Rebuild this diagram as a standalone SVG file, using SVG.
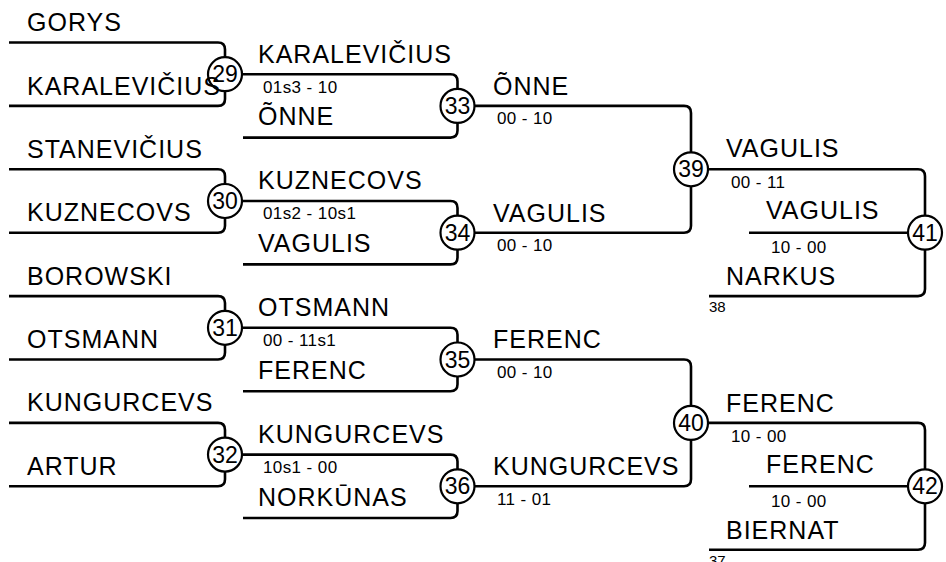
<svg xmlns="http://www.w3.org/2000/svg" width="946" height="562" viewBox="0 0 946 562">
<style>
.ln{fill:none;stroke:#000;stroke-width:2.6;stroke-linecap:butt}
.nd circle{fill:none;stroke:#000;stroke-width:2.2}
.nd text{font-family:"Liberation Sans",Arial,sans-serif;font-size:23px;text-anchor:middle;fill:#000}
.nm{font-family:"Liberation Sans",Arial,sans-serif;font-size:25px;letter-spacing:1px;fill:#000}
.sc{font-family:"Liberation Sans",Arial,sans-serif;font-size:17px;letter-spacing:0.4px;fill:#000}
.sm{font-family:"Liberation Sans",Arial,sans-serif;font-size:15px;fill:#000}
</style>
<rect width="946" height="562" fill="#fff"/>
<g id="connectors">
<path class="ln" d="M9 42.5H218Q225 42.5 225 49.5V57.2M225 91.2V98.9Q225 105.9 218 105.9H9"/>
<path class="ln" d="M9 169.3H218Q225 169.3 225 176.3V184M225 218V225.7Q225 232.7 218 232.7H9"/>
<path class="ln" d="M9 296.1H218Q225 296.1 225 303.1V310.8M225 344.8V352.5Q225 359.5 218 359.5H9"/>
<path class="ln" d="M9 422.9H218Q225 422.9 225 429.9V437.6M225 471.6V479.3Q225 486.3 218 486.3H9"/>
<path class="ln" d="M242 74.2H450.5Q457.5 74.2 457.5 81.2V88.9M457.5 122.9V130.6Q457.5 137.6 450.5 137.6H243"/>
<path class="ln" d="M242 201H450.5Q457.5 201 457.5 208V215.7M457.5 249.7V257.4Q457.5 264.4 450.5 264.4H243"/>
<path class="ln" d="M242 327.8H450.5Q457.5 327.8 457.5 334.8V342.5M457.5 376.5V384.2Q457.5 391.2 450.5 391.2H243"/>
<path class="ln" d="M242 454.6H450.5Q457.5 454.6 457.5 461.6V469.3M457.5 503.3V511Q457.5 518 450.5 518H243"/>
<path class="ln" d="M474.5 105.9H684Q691 105.9 691 112.9V152.3M691 186.3V225.7Q691 232.7 684 232.7H474.5"/>
<path class="ln" d="M474.5 359.5H684Q691 359.5 691 366.5V405.9M691 439.9V479.3Q691 486.3 684 486.3H474.5"/>
<path class="ln" d="M708 169.3H918Q925 169.3 925 176.3V215.7M925 249.7V289.1Q925 296.1 918 296.1H709M749 232.7H908"/>
<path class="ln" d="M708 422.9H918Q925 422.9 925 429.9V469.3M925 503.3V542.7Q925 549.7 918 549.7H709M749 486.3H908"/>
</g>
<g id="n29" class="nd"><circle cx="225" cy="74.2" r="17"/><text x="225" y="82.2">29</text></g>
<g id="n30" class="nd"><circle cx="225" cy="201" r="17"/><text x="225" y="209">30</text></g>
<g id="n31" class="nd"><circle cx="225" cy="327.8" r="17"/><text x="225" y="335.8">31</text></g>
<g id="n32" class="nd"><circle cx="225" cy="454.6" r="17"/><text x="225" y="462.6">32</text></g>
<g id="n33" class="nd"><circle cx="457.5" cy="105.9" r="17"/><text x="457.5" y="113.9">33</text></g>
<g id="n34" class="nd"><circle cx="457.5" cy="232.7" r="17"/><text x="457.5" y="240.7">34</text></g>
<g id="n35" class="nd"><circle cx="457.5" cy="359.5" r="17"/><text x="457.5" y="367.5">35</text></g>
<g id="n36" class="nd"><circle cx="457.5" cy="486.3" r="17"/><text x="457.5" y="494.3">36</text></g>
<g id="n39" class="nd"><circle cx="691" cy="169.3" r="17"/><text x="691" y="177.3">39</text></g>
<g id="n40" class="nd"><circle cx="691" cy="422.9" r="17"/><text x="691" y="430.9">40</text></g>
<g id="n41" class="nd"><circle cx="925" cy="232.7" r="17"/><text x="925" y="240.7">41</text></g>
<g id="n42" class="nd"><circle cx="925" cy="486.3" r="17"/><text x="925" y="494.3">42</text></g>
<g id="labels">
<text class="nm" x="27" y="31">GORYS</text>
<text class="nm" x="27" y="95">KARALEVIČIUS</text>
<text class="nm" x="27" y="157.5">STANEVIČIUS</text>
<text class="nm" x="27" y="221">KUZNECOVS</text>
<text class="nm" x="27" y="284.5">BOROWSKI</text>
<text class="nm" x="27" y="348">OTSMANN</text>
<text class="nm" x="27" y="411">KUNGURCEVS</text>
<text class="nm" x="27" y="474.5">ARTUR</text>
<text class="nm" x="258" y="62.5">KARALEVIČIUS</text>
<text class="sc" x="263" y="92.5">01s3 - 10</text>
<text class="nm" x="258" y="125">ÕNNE</text>
<text class="nm" x="258" y="189">KUZNECOVS</text>
<text class="sc" x="263" y="219">01s2 - 10s1</text>
<text class="nm" x="258" y="252">VAGULIS</text>
<text class="nm" x="258" y="316">OTSMANN</text>
<text class="sc" x="263" y="346">00 - 11s1</text>
<text class="nm" x="258" y="379">FERENC</text>
<text class="nm" x="258" y="443">KUNGURCEVS</text>
<text class="sc" x="263" y="473">10s1 - 00</text>
<text class="nm" x="258" y="506">NORKŪNAS</text>
<text class="nm" x="493" y="94.5">ÕNNE</text>
<text class="sc" x="497" y="124">00 - 10</text>
<text class="nm" x="493" y="221.5">VAGULIS</text>
<text class="sc" x="497" y="250.5">00 - 10</text>
<text class="nm" x="493" y="348">FERENC</text>
<text class="sc" x="497" y="377.5">00 - 10</text>
<text class="nm" x="493" y="475">KUNGURCEVS</text>
<text class="sc" x="497" y="504.5">11 - 01</text>
<text class="nm" x="726" y="157">VAGULIS</text>
<text class="sc" x="731" y="187.5">00 - 11</text>
<text class="nm" x="766" y="218.5">VAGULIS</text>
<text class="sc" x="771" y="252.5">10 - 00</text>
<text class="nm" x="726" y="285">NARKUS</text>
<text class="sm" x="709" y="311.5">38</text>
<text class="nm" x="726" y="411.5">FERENC</text>
<text class="sc" x="731" y="441.5">10 - 00</text>
<text class="nm" x="766" y="472.5">FERENC</text>
<text class="sc" x="771" y="506.5">10 - 00</text>
<text class="nm" x="726" y="538.5">BIERNAT</text>
<text class="sm" x="709" y="566">37</text>
</g>
</svg>
